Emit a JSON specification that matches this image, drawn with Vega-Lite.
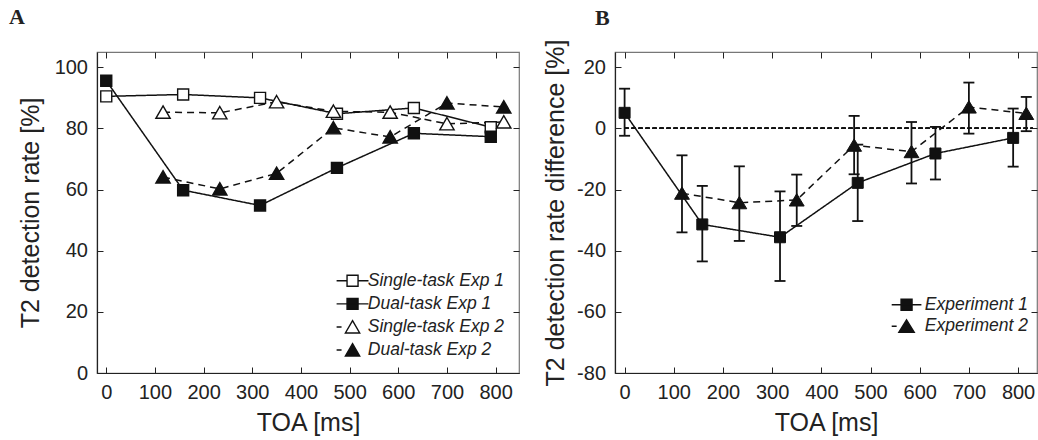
{
  "$schema": "https://vega.github.io/schema/vega-lite/v6.json",
  "background": "white",
  "padding": {"left": 8, "top": 5, "right": 0, "bottom": 0},
  "spacing": 21,
  "config": {
    "font": "Liberation Sans",
    "view": {"stroke": "#777", "strokeWidth": 1.2},
    "axis": {
      "grid": false,
      "labelFont": "Liberation Sans", "labelFontSize": 20, "labelColor": "#222",
      "titleFont": "Liberation Sans", "titleFontSize": 25, "titleFontWeight": "normal", "titleColor": "#222",
      "tickColor": "#222", "tickWidth": 1, "tickSize": -6,
      "domainColor": "#222", "domainWidth": 1.2,
      "labelPadding": 15.5, "labelFlush": false, "labelOverlap": false
    },
    "axisX": {"titlePadding": 8},
    "legend": {
      "orient": "none", "padding": 0, "symbolOffset": 0,
      "labelFont": "Liberation Sans", "labelFontStyle": "italic", "labelFontSize": 17.5, "labelColor": "#222",
      "symbolSize": 121, "symbolStrokeWidth": 1.4
    },
    "title": {"font": "Liberation Serif", "fontSize": 22, "fontWeight": "bold", "color": "#222", "anchor": "start", "frame": "group"}
  },
  "datasets": {
    "a": [
      {"toa": 0, "rate": 90.5, "series": "Single-task Exp 1", "exp": "Exp 1"},
      {"toa": 158, "rate": 91.1, "series": "Single-task Exp 1", "exp": "Exp 1"},
      {"toa": 316, "rate": 90.0, "series": "Single-task Exp 1", "exp": "Exp 1"},
      {"toa": 474, "rate": 84.8, "series": "Single-task Exp 1", "exp": "Exp 1"},
      {"toa": 632, "rate": 86.7, "series": "Single-task Exp 1", "exp": "Exp 1"},
      {"toa": 790, "rate": 80.4, "series": "Single-task Exp 1", "exp": "Exp 1"},
      {"toa": 0, "rate": 95.6, "series": "Dual-task Exp 1", "exp": "Exp 1"},
      {"toa": 158, "rate": 59.8, "series": "Dual-task Exp 1", "exp": "Exp 1"},
      {"toa": 316, "rate": 54.8, "series": "Dual-task Exp 1", "exp": "Exp 1"},
      {"toa": 474, "rate": 67.1, "series": "Dual-task Exp 1", "exp": "Exp 1"},
      {"toa": 632, "rate": 78.4, "series": "Dual-task Exp 1", "exp": "Exp 1"},
      {"toa": 790, "rate": 77.3, "series": "Dual-task Exp 1", "exp": "Exp 1"},
      {"toa": 116.7, "rate": 85.3, "series": "Single-task Exp 2", "exp": "Exp 2"},
      {"toa": 233.3, "rate": 85.1, "series": "Single-task Exp 2", "exp": "Exp 2"},
      {"toa": 350, "rate": 88.7, "series": "Single-task Exp 2", "exp": "Exp 2"},
      {"toa": 466.7, "rate": 85.6, "series": "Single-task Exp 2", "exp": "Exp 2"},
      {"toa": 583.3, "rate": 85.3, "series": "Single-task Exp 2", "exp": "Exp 2"},
      {"toa": 700, "rate": 81.5, "series": "Single-task Exp 2", "exp": "Exp 2"},
      {"toa": 816.7, "rate": 82.1, "series": "Single-task Exp 2", "exp": "Exp 2"},
      {"toa": 116.7, "rate": 64.1, "series": "Dual-task Exp 2", "exp": "Exp 2"},
      {"toa": 233.3, "rate": 60.2, "series": "Dual-task Exp 2", "exp": "Exp 2"},
      {"toa": 350, "rate": 65.3, "series": "Dual-task Exp 2", "exp": "Exp 2"},
      {"toa": 466.7, "rate": 80.2, "series": "Dual-task Exp 2", "exp": "Exp 2"},
      {"toa": 583.3, "rate": 77.2, "series": "Dual-task Exp 2", "exp": "Exp 2"},
      {"toa": 700, "rate": 88.3, "series": "Dual-task Exp 2", "exp": "Exp 2"},
      {"toa": 816.7, "rate": 87.0, "series": "Dual-task Exp 2", "exp": "Exp 2"}
    ],
    "b": [
      {"toa": 0, "diff": 5.1, "lo": -2.4, "hi": 13.0, "exp": "Experiment 1"},
      {"toa": 158, "diff": -31.4, "lo": -43.5, "hi": -18.8, "exp": "Experiment 1"},
      {"toa": 316, "diff": -35.6, "lo": -49.9, "hi": -20.6, "exp": "Experiment 1"},
      {"toa": 474, "diff": -17.8, "lo": -30.3, "hi": -5.3, "exp": "Experiment 1"},
      {"toa": 632, "diff": -8.2, "lo": -16.7, "hi": 0.5, "exp": "Experiment 1"},
      {"toa": 790, "diff": -3.1, "lo": -12.5, "hi": 6.5, "exp": "Experiment 1"},
      {"toa": 116.7, "diff": -21.2, "lo": -34.0, "hi": -8.8, "exp": "Experiment 2"},
      {"toa": 233.3, "diff": -24.3, "lo": -36.8, "hi": -12.4, "exp": "Experiment 2"},
      {"toa": 350, "diff": -23.4, "lo": -31.9, "hi": -15.1, "exp": "Experiment 2"},
      {"toa": 466.7, "diff": -5.5, "lo": -15.0, "hi": 4.1, "exp": "Experiment 2"},
      {"toa": 583.3, "diff": -7.6, "lo": -18.0, "hi": 2.1, "exp": "Experiment 2"},
      {"toa": 700, "diff": 7.0, "lo": -1.7, "hi": 15.0, "exp": "Experiment 2"},
      {"toa": 816.7, "diff": 4.9, "lo": -0.9, "hi": 10.3, "exp": "Experiment 2"}
    ]
  },
  "hconcat": [
    {
      "width": 422, "height": 321,
      "title": {"text": "A", "dx": -88, "offset": 22.5},
      "data": {"name": "a"},
      "resolve": {"scale": {"shape": "independent", "fill": "independent", "strokeDash": "independent"}, "axis": {"x": "independent", "y": "independent"}},
      "layer": [
        {
          "mark": {"type": "line", "color": "#111", "strokeWidth": 1.5},
          "encoding": {
            "x": {"field": "toa", "type": "quantitative", "scale": {"domain": [-19, 848], "nice": false, "zero": false},
                  "axis": {"orient": "bottom", "values": [0, 100, 200, 300, 400, 500, 600, 700, 800], "title": "TOA [ms]"}},
            "y": {"field": "rate", "type": "quantitative", "scale": {"domain": [0, 105], "nice": false, "zero": false},
                  "axis": {"orient": "left", "values": [0, 20, 40, 60, 80, 100], "title": "T2 detection rate [%]", "titlePadding": 11}},
            "detail": {"field": "series"},
            "strokeDash": {"field": "exp", "type": "nominal", "scale": {"domain": ["Exp 1", "Exp 2"], "range": [[1, 0], [7, 5]]}, "legend": null}
          }
        },
        {
          "mark": {"type": "point", "stroke": "#111", "strokeWidth": 1.4, "opacity": 1, "size": 121},
          "encoding": {
            "x": {"field": "toa", "type": "quantitative",
                  "axis": {"orient": "top", "labels": false, "domain": false, "title": null, "values": [0, 100, 200, 300, 400, 500, 600, 700, 800]}},
            "y": {"field": "rate", "type": "quantitative",
                  "axis": {"orient": "right", "labels": false, "domain": false, "title": null, "values": [0, 20, 40, 60, 80, 100]}},
            "shape": {"field": "series", "type": "nominal",
                      "scale": {"domain": ["Single-task Exp 1", "Dual-task Exp 1", "Single-task Exp 2", "Dual-task Exp 2"],
                                "range": ["M-1,-1H1V1H-1Z", "M-1,-1H1V1H-1Z", "M0,-1.15L1.3,1.1L-1.3,1.1Z", "M0,-1.15L1.3,1.1L-1.3,1.1Z"]},
                      "legend": null},
            "fill": {"field": "series", "type": "nominal",
                     "scale": {"domain": ["Single-task Exp 1", "Dual-task Exp 1", "Single-task Exp 2", "Dual-task Exp 2"],
                               "range": ["#ffffff", "#111111", "#ffffff", "#111111"]},
                     "legend": null}
          }
        },
        {
          "transform": [{"filter": "false"}],
          "mark": {"type": "point", "stroke": "#111", "strokeWidth": 1.4, "opacity": 1, "size": 121},
          "encoding": {
            "shape": {"field": "series", "type": "nominal",
                      "scale": {"domain": ["Single-task Exp 1", "Dual-task Exp 1", "Single-task Exp 2", "Dual-task Exp 2"],
                                "range": ["M-2.9,0H-1M1,0H2.9M-1,-1H1V1H-1Z", "M-2.9,0H2.9M-1,-1H1V1H-1Z", "M-2.9,0H-2M0,-1.15L1.3,1.1L-1.3,1.1Z", "M-2.9,0H-2M0,-1.15L1.3,1.1L-1.3,1.1Z"]},
                      "legend": {"title": null, "legendX": 246.8, "legendY": 220, "labelOffset": 6.5, "rowPadding": 4.1,
                                 "encode": {"symbols": {"stroke": {"value": "#111"}, "strokeWidth": {"value": 1.4}, "strokeOpacity": {"value": 1}, "opacity": {"value": 1}}}}},
            "fill": {"field": "series", "type": "nominal",
                     "scale": {"domain": ["Single-task Exp 1", "Dual-task Exp 1", "Single-task Exp 2", "Dual-task Exp 2"],
                               "range": ["#ffffff", "#111111", "#ffffff", "#111111"]},
                     "legend": {"title": null, "legendX": 246.8, "legendY": 220, "labelOffset": 6.5, "rowPadding": 4.1,
                                "encode": {"symbols": {"stroke": {"value": "#111"}, "strokeWidth": {"value": 1.4}, "strokeOpacity": {"value": 1}, "opacity": {"value": 1}}}}}
          }
        }
      ]
    },
    {
      "width": 422, "height": 321,
      "title": {"text": "B", "dx": -20, "offset": 9.5},
      "data": {"name": "b"},
      "resolve": {"scale": {"shape": "independent", "strokeDash": "independent"}, "axis": {"x": "independent", "y": "independent"}},
      "layer": [
        {
          "mark": {"type": "line", "color": "#111", "strokeWidth": 1.5},
          "encoding": {
            "x": {"field": "toa", "type": "quantitative", "scale": {"domain": [-19.5, 838.5], "nice": false, "zero": false},
                  "axis": {"orient": "bottom", "values": [0, 100, 200, 300, 400, 500, 600, 700, 800], "title": "TOA [ms]"}},
            "y": {"field": "diff", "type": "quantitative", "scale": {"domain": [-80, 25], "nice": false, "zero": false},
                  "axis": {"orient": "left", "values": [-80, -60, -40, -20, 0, 20], "labelExpr": "'' + datum.value", "title": "T2 detection rate difference [%]", "titlePadding": 8}},
            "strokeDash": {"field": "exp", "type": "nominal", "scale": {"domain": ["Experiment 1", "Experiment 2"], "range": [[1, 0], [7, 5]]}, "legend": null}
          }
        },
        {
          "mark": {"type": "rule", "color": "#111", "strokeWidth": 1.3, "strokeDash": [4, 3]},
          "encoding": {
            "x": {"datum": 0, "type": "quantitative", "axis": null},
            "x2": {"datum": 830},
            "y": {"datum": 0, "type": "quantitative", "axis": null}
          }
        },
        {
          "mark": {"type": "rule", "color": "#111", "strokeWidth": 1.8},
          "encoding": {
            "x": {"field": "toa", "type": "quantitative", "axis": null},
            "y": {"field": "lo", "type": "quantitative", "axis": null},
            "y2": {"field": "hi"}
          }
        },
        {
          "mark": {"type": "tick", "orient": "horizontal", "color": "#111", "size": 11, "thickness": 1.8, "opacity": 1},
          "encoding": {
            "x": {"field": "toa", "type": "quantitative", "axis": null},
            "y": {"field": "lo", "type": "quantitative", "axis": null}
          }
        },
        {
          "mark": {"type": "tick", "orient": "horizontal", "color": "#111", "size": 11, "thickness": 1.8, "opacity": 1},
          "encoding": {
            "x": {"field": "toa", "type": "quantitative", "axis": null},
            "y": {"field": "hi", "type": "quantitative", "axis": null}
          }
        },
        {
          "mark": {"type": "point", "filled": true, "color": "#111", "stroke": "#111", "strokeWidth": 1, "opacity": 1, "size": 121},
          "encoding": {
            "x": {"field": "toa", "type": "quantitative",
                  "axis": {"orient": "top", "labels": false, "domain": false, "title": null, "values": [0, 100, 200, 300, 400, 500, 600, 700, 800]}},
            "y": {"field": "diff", "type": "quantitative",
                  "axis": {"orient": "right", "labels": false, "domain": false, "title": null, "values": [-80, -60, -40, -20, 0, 20]}},
            "shape": {"field": "exp", "type": "nominal",
                      "scale": {"domain": ["Experiment 1", "Experiment 2"], "range": ["M-1,-1H1V1H-1Z", "M0,-1.15L1.35,1.1L-1.35,1.1Z"]},
                      "legend": null}
          }
        },
        {
          "transform": [{"filter": "false"}],
          "mark": {"type": "point", "filled": true, "color": "#111", "stroke": "#111", "strokeWidth": 1.4, "opacity": 1, "size": 121},
          "encoding": {
            "shape": {"field": "exp", "type": "nominal",
                      "scale": {"domain": ["Experiment 1", "Experiment 2"], "range": ["M-2.7,0H2.7M-1,-1H1V1H-1Z", "M-2.7,0H-1.8M0,-1.15L1.4,1.1L-1.4,1.1Z"]},
                      "legend": {"title": null, "legendX": 282.8, "legendY": 244, "labelOffset": 9.5, "rowPadding": 2.5,
                                 "encode": {"symbols": {"stroke": {"value": "#111"}, "strokeWidth": {"value": 1.4}, "fill": {"value": "#111"}, "strokeOpacity": {"value": 1}, "opacity": {"value": 1}}}}}
          }
        }
      ]
    }
  ]
}
